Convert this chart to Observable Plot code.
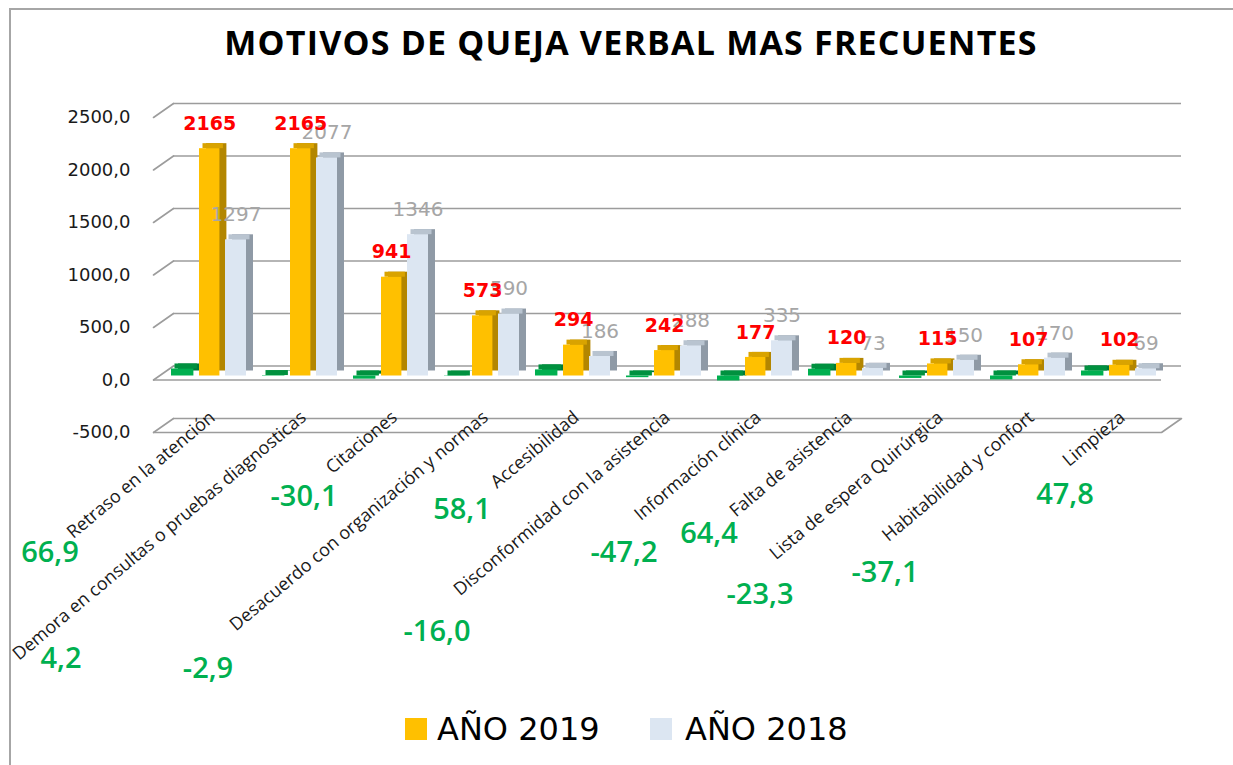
<!DOCTYPE html>
<html>
<head>
<meta charset="utf-8">
<script src="https://cdn.jsdelivr.net/npm/d3@7"></script>
<script src="https://cdn.jsdelivr.net/npm/@observablehq/plot@0.6"></script>
<style>
  body { margin: 0; background: #fff; }
  #page { position: relative; width: 1233px; height: 765px; overflow: hidden; background: #fff; }
  #frame { position: absolute; left: 9px; top: 8px; width: 1300px; height: 800px;
           border-left: 2px solid #a6a6a6; border-top: 2px solid #a6a6a6; }
  #clip { position: absolute; left: 11px; top: 10px; width: 1222px; height: 755px; overflow: hidden; }
  #chart { position: absolute; left: -11px; top: 70px; }
  #title { position: absolute; left: 0; top: 25px; width: 1262px; text-align: center;
           font-family: "Open Sans", sans-serif; font-weight: 700; font-size: 34px; line-height: 34px;
           letter-spacing: 1.2px; color: #000; white-space: nowrap; }
  .lg-sw { position: absolute; top: 718px; width: 22px; height: 22px; }
  .lg-tx { position: absolute; top: 713px; font-family: "DejaVu Sans", sans-serif; font-size: 32px;
           line-height: 32px; color: #000; white-space: nowrap; }
</style>
</head>
<body>
<div id="page">
  <div id="frame"></div>
  <div id="title">MOTIVOS DE QUEJA VERBAL MAS FRECUENTES</div>
  <div id="clip"><div id="chart"></div></div>
  <div class="lg-sw" style="left:405px;background:#FFC000"></div>
  <div class="lg-tx" style="left:437px">AÑO 2019</div>
  <div class="lg-sw" style="left:650px;background:#DCE6F2"></div>
  <div class="lg-tx" style="left:685px">AÑO 2018</div>
</div>
<script>
// ---- data ----
const categories = [
  "Retraso en la atención",
  "Demora en consultas o pruebas diagnosticas",
  "Citaciones",
  "Desacuerdo con organización y normas",
  "Accesibilidad",
  "Disconformidad con la asistencia",
  "Información clínica",
  "Falta de asistencia",
  "Lista de espera Quirúrgica",
  "Habitabilidad y confort",
  "Limpieza"
];
const year2019 = [2165, 2165, 941, 573, 294, 242, 177, 120, 115, 107, 102];
const year2018 = [1297, 2077, 1346, 590, 186, 288, 335, 73, 150, 170, 69];
const variation = [66.9, 4.2, -30.1, -2.9, 58.1, -16.0, -47.2, 64.4, -23.3, -37.1, 47.8];
const yTicks = [-500, 0, 500, 1000, 1500, 2000, 2500];

// ---- layout (label nudges of the variation labels, in px) ----
const varLabelNudge = [[-153,173],[-233,279],[-81,117],[-268,289],[-105,130],[-221,252],
                       [-125,173],[-131,154],[-171,215],[-137,193],[-48,115]];

const rows = categories.map((c, i) => ({cat: c, v2019: year2019[i], v2018: year2018[i], v: variation[i]}));
const loc = d3.formatLocale({decimal: ",", thousands: ".", grouping: [3], currency: ["", "€"], minus: "-"});
const fmt1 = loc.format(".1f");

const grid = "#9c9c9c";
const depthDx = 20, depthDy = -14;
const diag = {draw(context, l) { context.moveTo(0, 0); context.lineTo(0, -l); }};
const dLen = Math.hypot(depthDx, depthDy);
const dRot = Math.atan2(depthDx, -depthDy) * 180 / Math.PI;

function bar3d(field, front, side, top, L, R) {
  return [
    Plot.barY(rows, {x: "cat", y: field, fill: side, insetLeft: L, insetRight: R, dx: 7, dy: -9}),
    Plot.barY(rows, {x: "cat", y1: d => Math.max(0, d[field]), y2: d => Math.max(0, d[field]), insetTop: -5,
                     fill: top, insetLeft: L, insetRight: R, dx: 3.5, dy: -4}),
    Plot.barY(rows, {x: "cat", y: field, fill: front, insetLeft: L, insetRight: R, dy: -4})
  ];
}

const chart = Plot.plot({
  width: 1233, height: 620,
  marginLeft: 153, marginRight: 72, marginTop: 37, marginBottom: 268,
  x: {type: "band", domain: categories, padding: 0, axis: null},
  y: {domain: [-500, 2500]},
  style: {fontFamily: "DejaVu Sans", background: "transparent", overflow: "visible"},
  marks: [
    // back wall gridlines
    Plot.ruleY(yTicks, {stroke: grid, strokeWidth: 1.6, dx: depthDx, dy: depthDy}),
    // left side diagonals
    Plot.vector(yTicks, {y: d => d, frameAnchor: "left", length: dLen, rotate: dRot, anchor: "start",
                         shape: diag, stroke: grid, strokeWidth: 1.6}),
    // floor front edges
    Plot.ruleY([-500, 0], {stroke: grid, strokeWidth: 1.6}),
    Plot.vector([-500], {y: d => d, frameAnchor: "right", length: dLen, rotate: dRot, anchor: "start",
                         shape: diag, stroke: grid, strokeWidth: 1.6}),
    Plot.axisY(yTicks, {tickSize: 0, tickPadding: 23, tickFormat: fmt1, fontSize: 18, fill: "#1a1a1a"}),
    ...bar3d("v", "#00B050", "#007A38", "#00913F", 14, 54.6),
    ...bar3d("v2019", "#FFC000", "#B38600", "#D9A300", 42, 28.6),
    ...bar3d("v2018", "#DCE6F2", "#8F9AA6", "#B9C4D0", 68, 2),
    // category labels
    Plot.text(categories, {x: d => d, frameAnchor: "bottom", rotate: -40, textAnchor: "end", lineAnchor: "top",
                           dx: 5, dy: -23, fontSize: 18, fontFamily: "Open Sans", fill: "#1a1a1a"}),
    // value labels
    Plot.text(rows, {x: "cat", y: "v2018", text: d => String(d.v2018), dx: 33, dy: -29,
                     fontSize: 20, fill: "#A6A6A6"}),
    Plot.text(rows, {x: "cat", y: "v2019", text: d => String(d.v2019), dx: 6.7, dy: -29,
                     fontSize: 19, fontWeight: "bold", fill: "#FF0000"}),
    // variation labels
    ...rows.map((r, i) => Plot.text([r], {x: "cat", y: () => 0, text: d => fmt1(d.v),
                     dx: varLabelNudge[i][0], dy: varLabelNudge[i][1],
                     fontSize: 29, fontWeight: 600, fontFamily: "Open Sans", fill: "#00B050"}))
  ]
});
document.getElementById("chart").appendChild(chart);
</script>
</body>
</html>
